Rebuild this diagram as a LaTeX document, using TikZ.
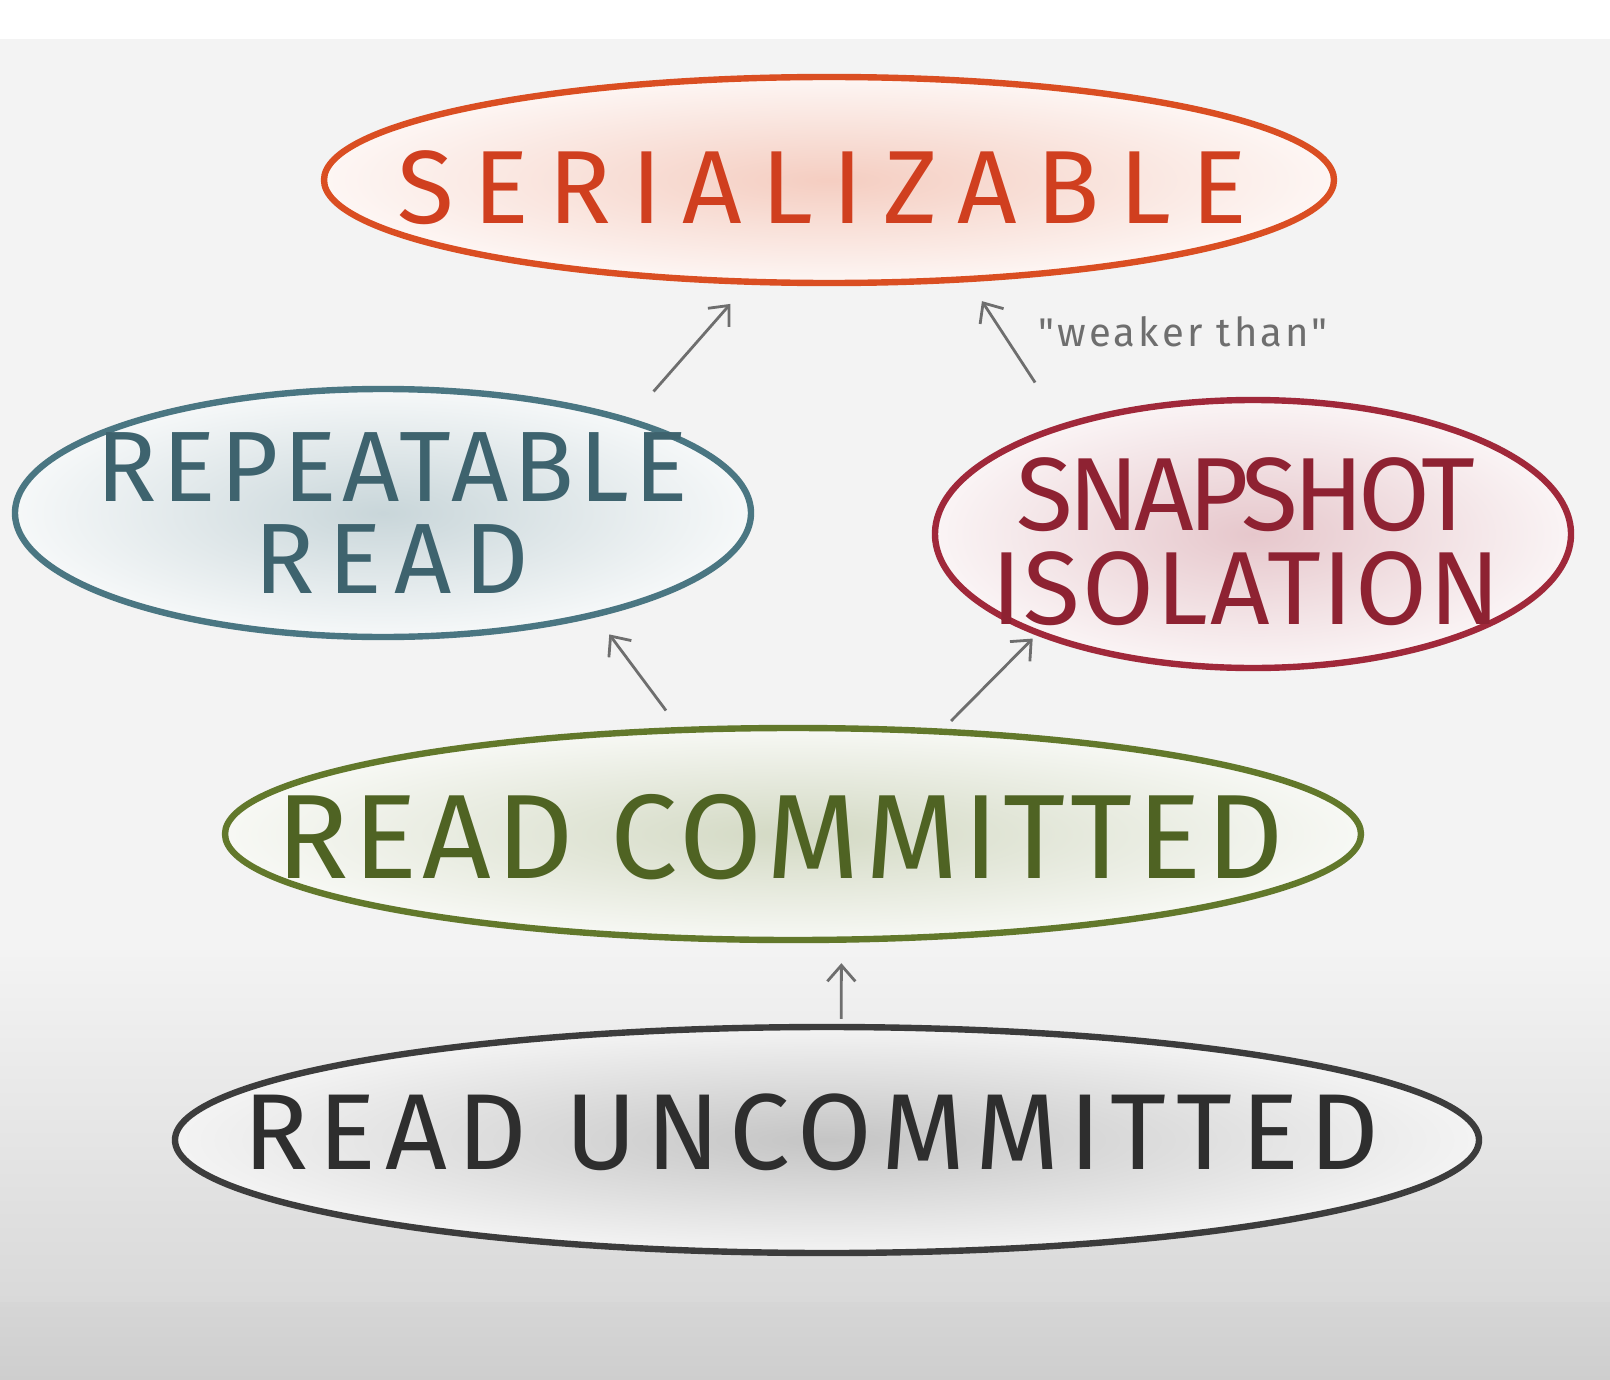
\documentclass[tikz,border=0pt]{standalone}
\usepackage{fontspec}
\setmainfont{Fira Sans}
\newfontfamily\markfont{Fira Sans}
\newcommand{\lsp}[2]{{\addfontfeatures{LetterSpace=#1}#2}}
\usetikzlibrary{shapes.geometric,arrows.meta,positioning}
\definecolor{serC}{HTML}{DA4E22}
\definecolor{serT}{HTML}{D03F1F}
\definecolor{rrC}{HTML}{4A7682}
\definecolor{rrT}{HTML}{3E636E}
\definecolor{siC}{HTML}{A0283A}
\definecolor{siT}{HTML}{8E2232}
\definecolor{rcC}{HTML}{62782B}
\definecolor{rcT}{HTML}{4F6323}
\definecolor{ruC}{HTML}{3C3C3C}
\definecolor{ruT}{HTML}{2E2E2E}
\definecolor{arC}{HTML}{6E6E6E}
\definecolor{bgA}{HTML}{F3F3F3}
\definecolor{bgB}{HTML}{D9D9D9}
\definecolor{bgC}{HTML}{D6D6D6}
\definecolor{bgD}{HTML}{CECECE}

\begin{document}
\begin{tikzpicture}[
  x=0.5pt, y=-0.5pt,
  lev/.style={ellipse, line width=3.2pt, inner sep=0pt},
  levser/.style={lev, draw=serC, inner color=serC!28, outer color=serC!5,
                 minimum width=505pt, minimum height=103pt},
  levrr/.style={lev, draw=rrC, inner color=rrC!30, outer color=rrC!5,
                minimum width=368pt, minimum height=124pt},
  levsi/.style={lev, draw=siC, inner color=siC!26, outer color=siC!5,
                minimum width=318pt, minimum height=134pt},
  levrc/.style={lev, draw=rcC, inner color=rcC!28, outer color=rcC!5,
                minimum width=568pt, minimum height=106pt},
  levru/.style={lev, draw=ruC, inner color=ruC!30, outer color=ruC!6,
                minimum width=652pt, minimum height=113pt},
  txt/.style={align=center, inner sep=0pt},
  ar/.style={-{Straight Barb[length=8pt,width=14pt]}, draw=arC, line width=1.4pt},
  note/.style={text=arC, font=\markfont\fontsize{20}{24}\selectfont},
]
% background
\fill[white] (0,0) rectangle (1610,1380);
\fill[bgA] (0,39) rectangle (1610,950);
\shade[top color=bgA, bottom color=bgB] (0,950) rectangle (1610,1302);
\shade[top color=bgC, bottom color=bgD] (0,1302) rectangle (1610,1380);

% levels
\node[levser] (ser) at (829,180) {};
\node[levrr]  (rr)  at (383,513) {};
\node[levsi]  (si)  at (1253,534) {};
\node[levrc]  (rc)  at (793,834) {};
\node[levru]  (ru)  at (827,1140) {};

\node[txt, text=serT, font=\markfont\fontsize{52}{46}\selectfont] (serL) at (822,188)
  {\lsp{19}{SERIALIZABLE}};
\node[txt, text=rrT, font=\markfont\fontsize{50}{46}\selectfont] (rrL) at (392,513)
  {\lsp{5}{REPEATABLE}\\\lsp{13}{READ}};
\node[txt, text=siT, font=\markfont\fontsize{52}{47}\selectfont] (siL) at (1246,542)
  {\lsp{-5}{SNAPSHOT}\\\lsp{2}{ISOLATION}};
\node[txt, text=rcT, font=\markfont\fontsize{60}{60}\selectfont] (rcL) at (780,837)
  {\lsp{4}{READ COMMITTED}};
\node[txt, text=ruT, font=\markfont\fontsize{54}{54}\selectfont] (ruL) at (811,1132)
  {\lsp{9}{READ UNCOMMITTED}};

% weaker-than arrows
\draw[ar, shorten <=17.7pt, shorten >=12.7pt] (rr.21.4) -- (ser.232.3);
\draw[ar, shorten <=24.6pt, shorten >=11.4pt] (si.150.4) -- (ser.324.7);
\draw[ar, shorten <=10.3pt, shorten >=10.8pt] (rc.137.4) -- (rr.334.1);
\draw[ar, shorten <=5.4pt, shorten >=2.4pt] (rc.35.4) -- (si.205.1);
\draw[ar, shorten <=2.5pt, shorten >=10.2pt] (ru.83.4) -- (rc.294);

\node[note] (weak) at (1183,332) {\lsp{8}{"weaker than"}};
\end{tikzpicture}
\end{document}
